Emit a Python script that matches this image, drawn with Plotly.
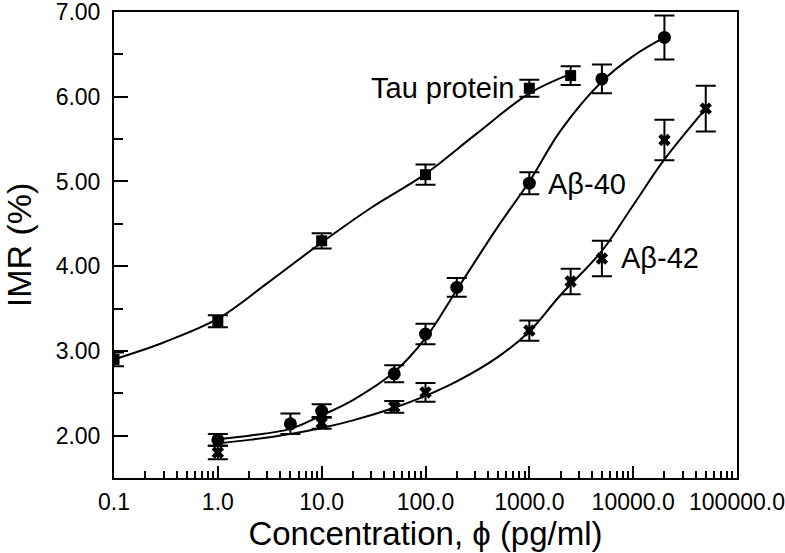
import plotly.graph_objects as go

# ---- data ----
tau_x = [0.1, 1, 10, 100, 1000, 2500]
tau_y = [2.90, 3.35, 4.30, 5.08, 6.10, 6.25]
tau_err = [0.08, 0.07, 0.09, 0.12, 0.10, 0.11]

ab40_x = [1, 5, 10, 50, 100, 200, 1000, 5000, 20000]
ab40_y = [1.95, 2.14, 2.29, 2.73, 3.20, 3.75, 4.98, 6.21, 6.70]
ab40_err = [0.07, 0.12, 0.08, 0.10, 0.12, 0.11, 0.13, 0.17, 0.26]

ab42_x = [1, 10, 50, 100, 1000, 2500, 5000, 20000, 50000]
ab42_y = [1.80, 2.15, 2.34, 2.51, 3.24, 3.82, 4.09, 5.49, 5.86]
ab42_err = [0.08, 0.07, 0.07, 0.11, 0.12, 0.15, 0.21, 0.24, 0.27]

# fitted curves
tau_fit_x = [0.1, 0.3, 1, 3, 10, 30, 100, 300, 1000, 2500]
tau_fit_y = [2.90, 3.10, 3.38, 3.80, 4.28, 4.69, 5.09, 5.55, 6.04, 6.27]

ab40_fit_x = [1, 2, 5, 10, 20, 50, 100, 200, 500, 1000, 2000, 5000, 10000, 20000]
ab40_fit_y = [1.96, 2.00, 2.08, 2.24, 2.42, 2.75, 3.15, 3.72, 4.47, 5.00, 5.60, 6.18, 6.48, 6.70]

ab42_fit_x = [1, 2, 5, 10, 20, 50, 100, 200, 500, 1000, 2000, 5000, 10000, 20000, 50000]
ab42_fit_y = [1.91, 1.95, 2.02, 2.09, 2.18, 2.33, 2.47, 2.64, 2.93, 3.23, 3.66, 4.18, 4.72, 5.26, 5.86]

x_tickvals = [0.1, 1, 10, 100, 1000, 10000, 100000]
x_ticktext = ["0.1", "1.0", "10.0", "100.0", "1000.0", "10000.0", "100000.0"]

FONT = "Liberation Sans, Arial, Helvetica, sans-serif"

fig = go.Figure()

line_style = dict(color="black", width=2, shape="spline", smoothing=1.0)
for fx, fy in [(tau_fit_x, tau_fit_y), (ab40_fit_x, ab40_fit_y), (ab42_fit_x, ab42_fit_y)]:
    fig.add_trace(go.Scatter(x=fx, y=fy, mode="lines", line=line_style,
                             showlegend=False, hoverinfo="skip"))

def pts(x, y, e, symbol, size, name):
    return go.Scatter(
        x=x, y=y, mode="markers", name=name, showlegend=False,
        marker=dict(symbol=symbol, size=size, color="black",
                    line=dict(color="black", width=0)),
        error_y=dict(type="data", array=e, visible=True, color="black",
                     thickness=2, width=10),
    )

fig.add_trace(pts(tau_x, tau_y, tau_err, "square", 11, "Tau protein"))
fig.add_trace(pts(ab40_x, ab40_y, ab40_err, "circle", 13, "Aβ-40"))
fig.add_trace(pts(ab42_x, ab42_y, ab42_err, "x", 11, "Aβ-42"))

ann_font = dict(family=FONT, size=29, color="black")
fig.add_annotation(x=2.885, y=6.106, text="Tau protein", showarrow=False,
                   xanchor="right", yanchor="middle", font=ann_font)
fig.add_annotation(x=3.16, y=4.965, text="Aβ-40", showarrow=False,
                   xanchor="left", yanchor="middle", font=ann_font)
fig.add_annotation(x=3.865, y=4.094, text="Aβ-42", showarrow=False,
                   xanchor="left", yanchor="middle", font=ann_font)

fig.update_layout(
    width=785, height=553,
    margin=dict(l=114, r=48, t=12, b=75, pad=0, autoexpand=False),
    plot_bgcolor="white", paper_bgcolor="white",
    font=dict(family=FONT, color="black"),
    xaxis=dict(
        type="log", range=[-1, 5], automargin=False,
        tickvals=x_tickvals, ticktext=x_ticktext,
        ticks="inside", ticklen=12, tickwidth=2, tickcolor="black",
        minor=dict(ticks="inside", ticklen=7, tickwidth=2, tickcolor="black",
                   dtick="D1", showgrid=False),
        showline=True, linewidth=2, linecolor="black", mirror=True,
        showgrid=False, zeroline=False,
        tickfont=dict(family=FONT, size=23, color="black"),
        ticklabelstandoff=2, ticklabeloverflow="allow",
        title=dict(text="Concentration, ϕ (pg/ml)",
                   font=dict(family=FONT, size=33, color="black"), standoff=6),
    ),
    yaxis=dict(
        range=[1.5, 7.0005], tickvals=[2, 3, 4, 5, 6, 7], tickformat=".2f",
        automargin=False,
        ticks="inside", ticklen=14, tickwidth=2, tickcolor="black",
        minor=dict(ticks="inside", ticklen=9, tickwidth=2, tickcolor="black",
                   tickvals=[1.5, 2.5, 3.5, 4.5, 5.5, 6.5], showgrid=False),
        showline=True, linewidth=2, linecolor="black", mirror=True,
        showgrid=False, zeroline=False,
        tickfont=dict(family=FONT, size=23, color="black"),
        ticklabelstandoff=7, ticklabeloverflow="allow",
        title=dict(text="IMR (%)",
                   font=dict(family=FONT, size=34, color="black"), standoff=28),
    ),
)

fig.write_html("out.html", config={"displayModeBar": False},
               post_script="document.body.style.margin='0px';")
